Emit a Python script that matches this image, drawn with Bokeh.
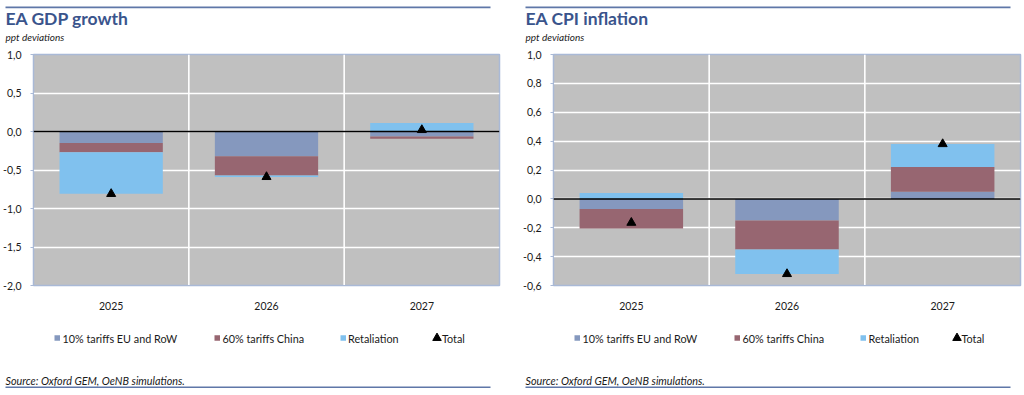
import numpy as np
from bokeh.plotting import figure
from bokeh.layouts import row, column
from bokeh.models import (FactorRange, Range1d, FixedTicker, CustomJSTickFormatter, Span)
from bokeh.core.properties import value
from bokeh.embed import file_html
from bokeh.resources import INLINE

# ---------------- data ----------------
categories = ["2025", "2026", "2027"]
series_names = ["10% tariffs EU and RoW", "60% tariffs China", "Retaliation"]
total_name = "Total"

gdp_tariffs_eu_row = [-0.15, -0.32, -0.065]
gdp_tariffs_china = [-0.12, -0.25, -0.03]
gdp_retaliation = [-0.54, -0.02, 0.11]
gdp_total = [-0.81, -0.59, 0.02]
gdp_ticks = [-2.0, -1.5, -1.0, -0.5, 0.0, 0.5, 1.0]

cpi_tariffs_eu_row = [-0.07, -0.15, 0.05]
cpi_tariffs_china = [-0.135, -0.20, 0.17]
cpi_retaliation = [0.04, -0.17, 0.16]
cpi_total = [-0.165, -0.52, 0.38]
cpi_ticks = [-0.6, -0.4, -0.2, 0.0, 0.2, 0.4, 0.6, 0.8, 1.0]

# ---------------- style ----------------
COLORS = ["#8598BE", "#976671", "#80C1EE"]
BG = "#C0C0C0"
FRAME_COL = "#A9B9D6"
RULE_COL = "#5F77A8"
TITLE_COL = "#3A548C"
TEXT_COL = "#1a1a1a"
FONT = "Lato"
COL_W = 512
HEAD_H = 50
MAIN_TOP, FRAME_TOP, FRAME_BOTTOM, MAIN_BOTTOM = 50, 54, 285, 315
FOOT_H = 395 - MAIN_BOTTOM


def stack(series_list):
    pos = np.zeros(len(categories))
    neg = np.zeros(len(categories))
    out = []
    for s in series_list:
        v = np.asarray(s, dtype=float)
        bottom = np.where(v >= 0, pos, neg)
        top = bottom + v
        pos = np.where(v >= 0, top, pos)
        neg = np.where(v < 0, top, neg)
        out.append((bottom, top))
    return out


def blank(height):
    p = figure(width=COL_W, height=height, x_range=Range1d(0, COL_W),
               y_range=Range1d(height, 0), x_axis_type=None, y_axis_type=None,
               min_border=0, output_backend="svg", toolbar_location=None, title=None,
               frame_align=False)
    p.outline_line_color = None
    p.background_fill_color = "white"
    p.border_fill_color = "white"
    p.grid.visible = False
    return p


def make_chart(title, series_list, total, ticks, ymin, ymax, x0, frame_left,
               frame_right, title_x, rule_x0, rule_x1, legend_pos, ystandoff):
    # ---- header ----
    h = blank(HEAD_H)

    def htext(fig, x, y, t, size, style="normal", color=TEXT_COL):
        fig.text(x=[x - x0], y=[y], text=[t], text_font=value(FONT), text_font_size=size,
                 text_font_style=style, text_color=color, text_align="left",
                 text_baseline="middle")

    h.quad(left=[rule_x0 - x0], right=[rule_x1 - x0], top=[6], bottom=[7.8],
           fill_color=RULE_COL, line_color=None)
    htext(h, title_x, 18, title, "17.5px", "bold", TITLE_COL)
    htext(h, title_x, 36.5, "ppt deviations", "10px", "italic")

    # ---- main plot ----
    p = figure(x_range=FactorRange(factors=categories),
               y_range=Range1d(ymin, ymax),
               width=COL_W, height=MAIN_BOTTOM - MAIN_TOP,
               min_border_left=frame_left - x0,
               min_border_right=x0 + COL_W - frame_right,
               min_border_top=FRAME_TOP - MAIN_TOP,
               min_border_bottom=MAIN_BOTTOM - FRAME_BOTTOM,
               output_backend="svg", toolbar_location=None, title=None,
               frame_align=False)
    p.background_fill_color = BG
    p.border_fill_color = "white"
    p.outline_line_color = FRAME_COL
    p.outline_line_width = 1.5

    p.xgrid.visible = False
    p.ygrid.grid_line_color = "white"
    p.ygrid.grid_line_width = 1.6
    for b in (1.0, 2.0):
        p.add_layout(Span(location=b, dimension="height", line_color="white",
                          line_width=1.6, level="underlay"))

    for (bottom, top), col in zip(stack(series_list), COLORS):
        p.vbar(x=categories, bottom=bottom, top=top, width=0.665,
               fill_color=col, line_color=None)
    p.add_layout(Span(location=0, dimension="width", line_color="black", line_width=1.5))
    p.scatter(x=categories, y=total, marker="triangle", size=9,
              fill_color="black", line_color="black")

    p.yaxis.ticker = FixedTicker(ticks=ticks)
    p.yaxis.formatter = CustomJSTickFormatter(code="return tick.toFixed(1).replace('.', ',');")
    p.yaxis.axis_line_color = FRAME_COL
    p.yaxis.major_tick_line_color = FRAME_COL
    p.yaxis.major_tick_out = 3
    p.yaxis.major_tick_in = 0
    p.yaxis.minor_tick_line_color = None
    p.yaxis.major_label_standoff = ystandoff
    p.yaxis.major_label_text_font = FONT
    p.yaxis.major_label_text_font_size = "10.5px"
    p.yaxis.major_label_text_color = TEXT_COL

    p.xaxis.axis_line_color = FRAME_COL
    p.xaxis.major_tick_line_color = None
    p.xaxis.minor_tick_line_color = None
    p.xaxis.major_label_standoff = 10
    p.xaxis.major_label_text_font = FONT
    p.xaxis.major_label_text_font_size = "10.5px"
    p.xaxis.major_label_text_color = TEXT_COL

    # ---- footer: legend, source, rule ----
    f = blank(FOOT_H)
    ly = 337.5 - MAIN_BOTTOM
    for (sx, tx), col, name in zip(legend_pos[:3], COLORS, series_names):
        f.quad(left=[sx - x0], right=[sx + 5.5 - x0], top=[ly - 2.8], bottom=[ly + 2.8],
               fill_color=col, line_color=None)
        htext(f, tx, ly, name, "10.8px")
    tri_x, tri_tx = legend_pos[3]
    f.scatter(x=[tri_x - x0], y=[ly], marker="triangle", size=8.5,
              fill_color="black", line_color="black")
    htext(f, tri_tx, ly, total_name, "10.8px")
    htext(f, title_x, 380 - MAIN_BOTTOM, "Source: Oxford GEM, OeNB simulations.",
          "10.8px", "italic")
    f.quad(left=[rule_x0 - x0], right=[rule_x1 - x0], top=[385.9 - MAIN_BOTTOM],
           bottom=[387.6 - MAIN_BOTTOM], fill_color=RULE_COL, line_color=None)

    return column(h, p, f, spacing=0)


left = make_chart("EA GDP growth",
                  [gdp_tariffs_eu_row, gdp_tariffs_china, gdp_retaliation], gdp_total,
                  gdp_ticks, -2.0, 1.0, x0=0, frame_left=33, frame_right=499,
                  title_x=5, rule_x0=5, rule_x1=490,
                  legend_pos=[(54, 62), (214, 222), (340, 347.5), (436.5, 441.5)],
                  ystandoff=9)
right = make_chart("EA CPI inflation",
                   [cpi_tariffs_eu_row, cpi_tariffs_china, cpi_retaliation], cpi_total,
                   cpi_ticks, -0.6, 1.0, x0=512, frame_left=553, frame_right=1020,
                   title_x=525, rule_x0=525, rule_x1=1010,
                   legend_pos=[(574, 582), (734, 742), (860, 868), (956.5, 961)],
                   ystandoff=9)

layout = row(left, right, spacing=0)
open("out.html", "w").write(file_html(layout, INLINE))
